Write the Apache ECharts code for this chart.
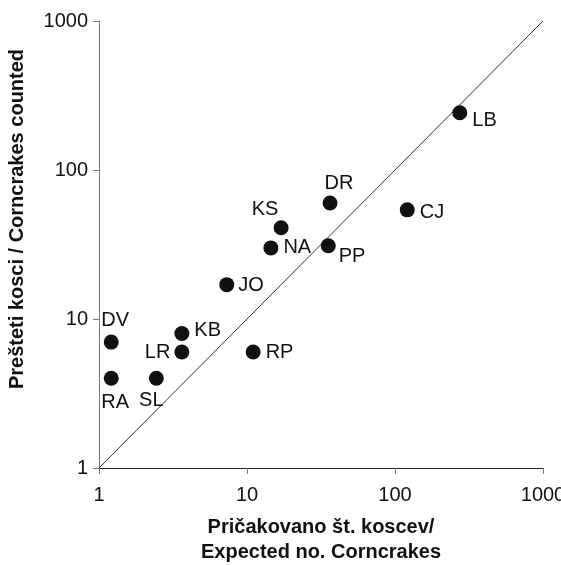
<!DOCTYPE html>
<html>
<head>
<meta charset="utf-8">
<script src="https://cdn.jsdelivr.net/npm/echarts@6/dist/echarts.min.js"></script>
<style>html,body{margin:0;padding:0;background:#fff}#c{width:561px;height:565px}</style>
</head>
<body>
<div id="c"></div>
<script>
// Data
const sites = ['LB','DR','CJ','PP','NA','KS','JO','DV','RA','SL','KB','LR','RP'];
const expected = [274, 36.4, 121, 35.4, 14.5, 17.0, 7.3, 1.21, 1.21, 2.44, 3.63, 3.63, 11.0];
const counted = [242, 60, 54, 31, 30, 41, 17, 7, 4, 4, 8, 6, 6];
const axisTicks = [1, 10, 100, 1000];
const lineEnds = [1, 1000];
const yTitle = 'Prešteti kosci / Corncrakes counted';
const xTitle = 'Pričakovano št. koscev/\nExpected no. Corncrakes';

// Label placement (style only)
const labelPlacement = {
  LB: ['right', [0, 8]],
  DR: ['top', [9, 3]],
  CJ: ['right', [0, 3]],
  PP: ['right', [-2, 11]],
  NA: ['right', [0, 0]],
  KS: ['top', [-16, 4]],
  JO: ['right', [-1, 1]],
  DV: ['top', [4, 1]],
  RA: ['bottom', [4, 2]],
  SL: ['bottom', [-5, 0]],
  KB: ['right', [0, -3]],
  LR: ['left', [1, 0]],
  RP: ['right', [0, 0]]
};

const FONT = 'Liberation Sans, Arial, sans-serif';
const TXT = '#111';

const points = sites.map((s, i) => ({
  name: s,
  value: [expected[i], counted[i]],
  label: {
    show: true,
    formatter: s,
    position: labelPlacement[s][0],
    offset: labelPlacement[s][1],
    distance: 5,
    fontFamily: FONT,
    fontSize: 20,
    color: TXT
  }
}));

const chart = echarts.init(document.getElementById('c'), null, {renderer: 'canvas'});
const logAxis = (isX) => ({
  type: 'log',
  logBase: 10,
  min: axisTicks[0],
  max: axisTicks[axisTicks.length - 1],
  splitLine: {show: false},
  minorTick: {show: false},
  axisLine: {show: true, onZero: false, lineStyle: {color: isX ? '#222' : '#777', width: 1}},
  axisTick: {show: true, inside: false, length: 6, lineStyle: {color: '#777', width: 1}},
  axisLabel: {
    fontFamily: FONT, fontSize: 20, color: TXT,
    margin: isX ? 17 : 11,
    formatter: v => String(Math.round(v))
  }
});

const xAx = logAxis(true);
xAx.name = xTitle;
xAx.nameLocation = 'middle';
xAx.nameGap = 47;
xAx.nameTextStyle = {fontFamily: FONT, fontSize: 20, fontWeight: 'bold', color: TXT, lineHeight: 25};

chart.setOption({
  animation: false,
  backgroundColor: '#fff',
  grid: {left: 99, right: 18, top: 21, bottom: 97, containLabel: false, outerBoundsMode: 'none'},
  xAxis: xAx,
  yAxis: logAxis(false),
  graphic: [{
    type: 'text',
    x: 17, y: 219,
    rotation: Math.PI / 2,
    style: {
      text: yTitle,
      fontFamily: FONT, fontSize: 20, fontWeight: 'bold', fill: TXT,
      align: 'center', verticalAlign: 'middle'
    }
  }],
  series: [
    {
      type: 'line',
      data: [[lineEnds[0], lineEnds[0]], [lineEnds[1], lineEnds[1]]],
      symbol: 'none',
      lineStyle: {color: '#333', width: 1},
      z: 1,
      silent: true
    },
    {
      type: 'scatter',
      data: points,
      symbol: 'circle',
      symbolSize: 15,
      itemStyle: {color: '#111', opacity: 1},
      z: 3
    }
  ]
});
</script>
</body>
</html>
